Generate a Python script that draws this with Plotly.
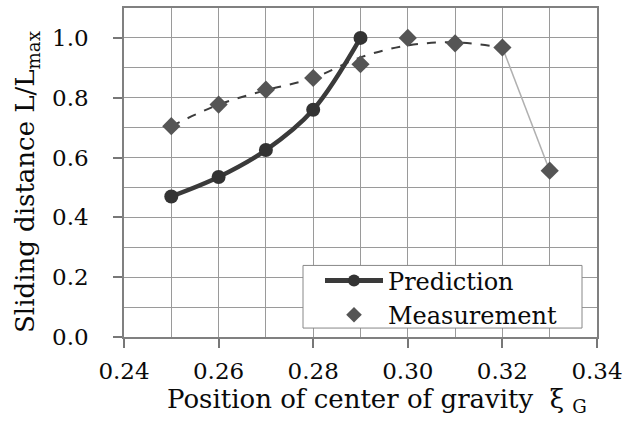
import plotly.graph_objects as go

# Data
pred_x = [0.25, 0.26, 0.27, 0.28, 0.29]
pred_y = [0.47, 0.535, 0.625, 0.76, 1.0]

meas_x = [0.25, 0.26, 0.27, 0.28, 0.29, 0.30, 0.31, 0.32, 0.33]
meas_y = [0.705, 0.777, 0.827, 0.866, 0.912, 1.0, 0.982, 0.968, 0.556]

trend_x = [0.25, 0.26, 0.27, 0.28, 0.29, 0.30, 0.31, 0.32]
trend_y = [0.705, 0.777, 0.825, 0.866, 0.935, 0.975, 0.985, 0.968]

tail_x = [0.32, 0.33]
tail_y = [0.968, 0.556]

x_ticks = [0.24, 0.26, 0.28, 0.30, 0.32, 0.34]
y_ticks = [0.0, 0.2, 0.4, 0.6, 0.8, 1.0]

FONT = "DejaVu Serif"
TXT = "#0a0a0a"

# plot-area pixel geometry (for paper-coordinate placement of layout items)
PL, PR, PT, PB = 124, 597, 6, 337
PW, PH = PR - PL, PB - PT


def px(x):
    return (x - PL) / PW


def py(y):
    return (PB - y) / PH


fig = go.Figure()

fig.add_trace(go.Scatter(x=tail_x, y=tail_y, mode="lines",
                         line=dict(color="#b0b0b0", width=1.5),
                         showlegend=False, hoverinfo="skip"))
fig.add_trace(go.Scatter(x=trend_x, y=trend_y, mode="lines",
                         line=dict(color="#3c3c3c", width=2, dash="dash", shape="spline"),
                         showlegend=False, hoverinfo="skip"))
fig.add_trace(go.Scatter(x=pred_x, y=pred_y, mode="lines+markers", name="Prediction",
                         line=dict(color="#3a3a3a", width=4.5, shape="spline"),
                         marker=dict(symbol="circle", size=14, color="#333333")))
fig.add_trace(go.Scatter(x=meas_x, y=meas_y, mode="markers", name="Measurement",
                         marker=dict(symbol="diamond", size=14, color="#555555")))

fig.update_layout(
    width=630, height=426,
    margin=dict(l=PL, r=630 - PR, t=PT, b=426 - PB),
    paper_bgcolor="white", plot_bgcolor="white",
    font=dict(family=FONT, color=TXT),
    showlegend=True,
    legend=dict(x=px(320), y=py(258), xanchor="left", yanchor="top",
                bgcolor="rgba(0,0,0,0)", borderwidth=0,
                font=dict(family=FONT, size=24, color=TXT),
                tracegroupgap=0, itemsizing="constant", itemwidth=58),
    shapes=[dict(type="rect", xref="paper", yref="paper",
                 x0=px(303), x1=px(582), y0=py(328), y1=py(265),
                 fillcolor="white", line=dict(color="#888888", width=1),
                 layer="above")],
    xaxis=dict(range=[0.24, 0.34], tickvals=x_ticks,
               ticktext=[f"{v:.2f}" for v in x_ticks],
               ticks="outside", ticklen=9, tickcolor="#777777", tickwidth=1.5,
               showgrid=True, gridcolor="#9a9a9a", gridwidth=1.2,
               minor=dict(dtick=0.01, showgrid=True, gridcolor="#9a9a9a", gridwidth=1.2),
               showline=True, linecolor="#808080", linewidth=1.5, mirror=True,
               tickfont=dict(family=FONT, size=23, color=TXT),
               ticklabelstandoff=4, zeroline=False),
    yaxis=dict(range=[0, 1.1], tickvals=y_ticks,
               ticktext=[f"{v:.1f}" for v in y_ticks],
               ticks="outside", ticklen=9, tickcolor="#777777", tickwidth=1.5,
               showgrid=True, gridcolor="#9a9a9a", gridwidth=1.2,
               minor=dict(dtick=0.1, showgrid=True, gridcolor="#9a9a9a", gridwidth=1.2),
               showline=True, linecolor="#808080", linewidth=1.5, mirror=True,
               tickfont=dict(family=FONT, size=23, color=TXT),
               ticklabelstandoff=20, zeroline=False),
    annotations=[
        dict(text="Position of center of gravity\u00a0\u00a0ξ\u00a0<sub>G</sub>",
             xref="paper", yref="paper", x=px(377), y=py(401),
             xanchor="center", yanchor="middle", showarrow=False,
             font=dict(family=FONT, size=26, color=TXT)),
        dict(text="Sliding distance L/L<sub>max</sub>",
             xref="paper", yref="paper", x=px(27), y=py(181),
             xanchor="center", yanchor="middle", showarrow=False, textangle=-90,
             font=dict(family=FONT, size=26, color=TXT)),
    ],
)

fig.write_html("out.html")
